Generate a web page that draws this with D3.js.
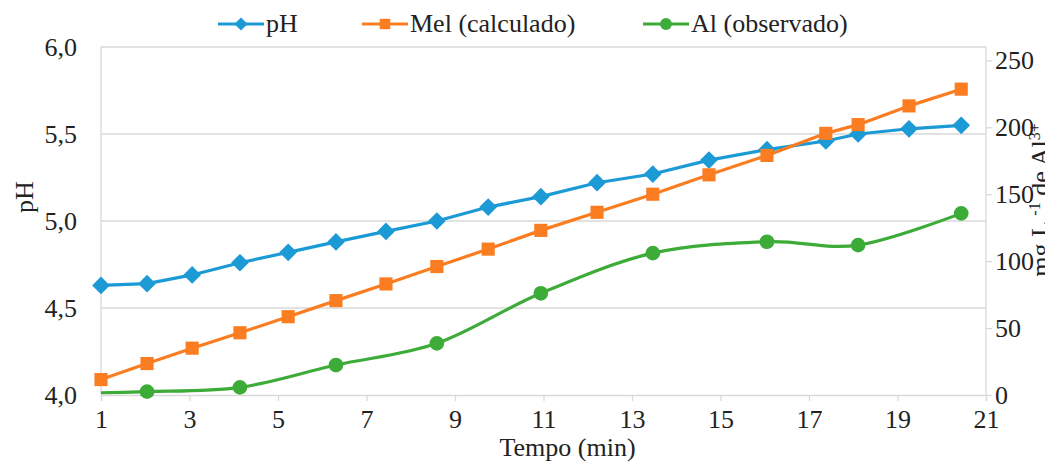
<!DOCTYPE html>
<html>
<head>
<meta charset="utf-8">
<script src="https://cdn.jsdelivr.net/npm/d3@7"></script>
<style>
  body { margin: 0; background: #fff; }
  svg text { font-family: "Liberation Serif", "Times New Roman", serif; fill: #222; }
</style>
</head>
<body>
<div id="chart"></div>
<script>
// sample times (min)
const tempo = [1, 2.04, 3.06, 4.14, 5.23, 6.31, 7.44, 8.59, 9.75, 10.94, 12.21, 13.47, 14.74, 16.05, 17.38, 18.11, 19.26, 20.44];
const ph = [4.63, 4.64, 4.69, 4.76, 4.82, 4.88, 4.94, 5.00, 5.08, 5.14, 5.22, 5.27, 5.35, 5.41, 5.46, 5.50, 5.53, 5.55];
const melCalc = [11.5, 23.5, 35, 46.5, 58.5, 70.5, 83, 96, 109, 123, 136.5, 150, 164.5, 179, 195.5, 202, 216, 228.5];

// Al observed: first value is only the start of the line (no marker)
const tempoAl = [1, 2.04, 4.14, 6.31, 8.59, 10.94, 13.47, 16.05, 18.11, 20.44];
const alObs = [1.7, 2.5, 5.7, 22.4, 38.6, 76, 106, 114.5, 112, 135.7];

const xTicks = [1, 3, 5, 7, 9, 11, 13, 15, 17, 19, 21];
const phTicks = [4.0, 4.5, 5.0, 5.5, 6.0];
const mgTicks = [0, 50, 100, 150, 200, 250];

const W = 1045, H = 463;
const plot = { left: 101, right: 986, top: 47, bottom: 395 };
const colors = { ph: "#1c9ad6", mel: "#fb7d22", al: "#3dab38" };
const grid = "#d9d9d9";
const fs = 26;

const svg = d3.select("#chart").append("svg").attr("width", W).attr("height", H);

const x = d3.scaleLinear().domain([1, 21]).range([plot.left, plot.right]);
const yL = d3.scaleLinear().domain([4, 6]).range([plot.bottom, plot.top]);
const yR = d3.scaleLinear().domain([0, 260]).range([plot.bottom, plot.top]);

// gridlines
svg.append("g")
  .selectAll("line")
  .data(phTicks.slice(1))
  .join("line")
  .attr("x1", plot.left).attr("x2", plot.right)
  .attr("y1", d => yL(d)).attr("y2", d => yL(d))
  .attr("stroke", grid).attr("stroke-width", 1.3);

// axes
const fmt = d3.format(".1f");
const gx = svg.append("g").attr("transform", `translate(0,${plot.bottom})`)
  .call(d3.axisBottom(x).tickValues(xTicks).tickSize(6).tickPadding(9));
const gl = svg.append("g").attr("transform", `translate(${plot.left},0)`)
  .call(d3.axisLeft(yL).tickValues(phTicks).tickSize(0).tickPadding(24)
    .tickFormat(d => fmt(d).replace(".", ",")));
const gr = svg.append("g").attr("transform", `translate(${plot.right},0)`)
  .call(d3.axisRight(yR).tickValues(mgTicks).tickSize(6).tickPadding(3));

[gx, gl, gr].forEach(g => {
  g.attr("font-family", null).attr("font-size", null);
  g.select(".domain").attr("stroke", grid).attr("stroke-width", 1.3);
  g.selectAll(".tick line").attr("stroke", grid).attr("stroke-width", 1.3);
  g.selectAll(".tick text").style("font-size", fs + "px").attr("fill", "#222");
});
gl.select(".domain").attr("d", `M0,${plot.top}V${plot.bottom}`);
gr.select(".domain").attr("d", `M0,${plot.top}V${plot.bottom}`);

// axis titles
svg.append("text")
  .attr("x", (plot.left + plot.right) / 2 + 24).attr("y", 456)
  .attr("text-anchor", "middle").attr("font-size", fs)
  .text("Tempo (min)");

svg.append("text")
  .attr("transform", "translate(33,197) rotate(-90)")
  .attr("text-anchor", "middle").attr("font-size", fs)
  .text("pH");

// right title is partly cut by the window edge, as in the original
const rt = svg.append("text")
  .attr("transform", "translate(1049,200) rotate(-90)")
  .attr("text-anchor", "middle").attr("font-size", fs);
rt.append("tspan").text("mg L ");
rt.append("tspan").attr("font-size", 16).attr("dy", -9).text("-1");
rt.append("tspan").attr("dy", 9).text(" de  Al");
rt.append("tspan").attr("font-size", 16).attr("dy", -9).text("3+");

// series
const phData = tempo.map((t, i) => ({ t, v: ph[i] }));
const melData = tempo.map((t, i) => ({ t, v: melCalc[i] }));
const alData = tempoAl.map((t, i) => ({ t, v: alObs[i] }));

const lineL = d3.line().x(d => x(d.t)).y(d => yL(d.v));
const lineR = d3.line().x(d => x(d.t)).y(d => yR(d.v));
const lineSmooth = d3.line().x(d => x(d.t)).y(d => yR(d.v)).curve(d3.curveCardinal.tension(0));

function drawLine(data, gen, color) {
  svg.append("path").datum(data)
    .attr("d", gen).attr("fill", "none")
    .attr("stroke", color).attr("stroke-width", 3.2)
    .attr("stroke-linejoin", "round");
}

drawLine(alData, lineSmooth, colors.al);
drawLine(phData, lineL, colors.ph);
drawLine(melData, lineR, colors.mel);

const diamond = d3.symbol().type(d3.symbolDiamond2).size(200);
const square = d3.symbol().type(d3.symbolSquare2).size(220);
const circle = d3.symbol().type(d3.symbolCircle).size(170);

function drawSymbols(data, sx, sy, gen, color) {
  svg.append("g").selectAll("path")
    .data(data)
    .join("path")
    .attr("transform", d => `translate(${sx(d.t)},${sy(d.v)})`)
    .attr("d", gen).attr("fill", color);
}

drawSymbols(alData.slice(1), x, yR, circle, colors.al);
drawSymbols(phData, x, yL, diamond, colors.ph);
drawSymbols(melData, x, yR, square, colors.mel);

// legend
const legend = [
  { name: "pH", color: colors.ph, sym: d3.symbol().type(d3.symbolDiamond2).size(110), x0: 218 },
  { name: "Mel (calculado)", color: colors.mel, sym: d3.symbol().type(d3.symbolSquare2).size(140), x0: 362 },
  { name: "Al (observado)", color: colors.al, sym: d3.symbol().type(d3.symbolCircle).size(110), x0: 643 },
];
const lg = svg.append("g").selectAll("g").data(legend).join("g")
  .attr("transform", d => `translate(${d.x0},24)`);
lg.append("line").attr("x1", 0).attr("x2", 46)
  .attr("stroke", d => d.color).attr("stroke-width", 3.2);
lg.append("path").attr("transform", "translate(23,0)")
  .attr("d", d => d.sym()).attr("fill", d => d.color);
lg.append("text").attr("x", 48).attr("y", 8)
  .attr("font-size", fs).text(d => d.name);
</script>
</body>
</html>
